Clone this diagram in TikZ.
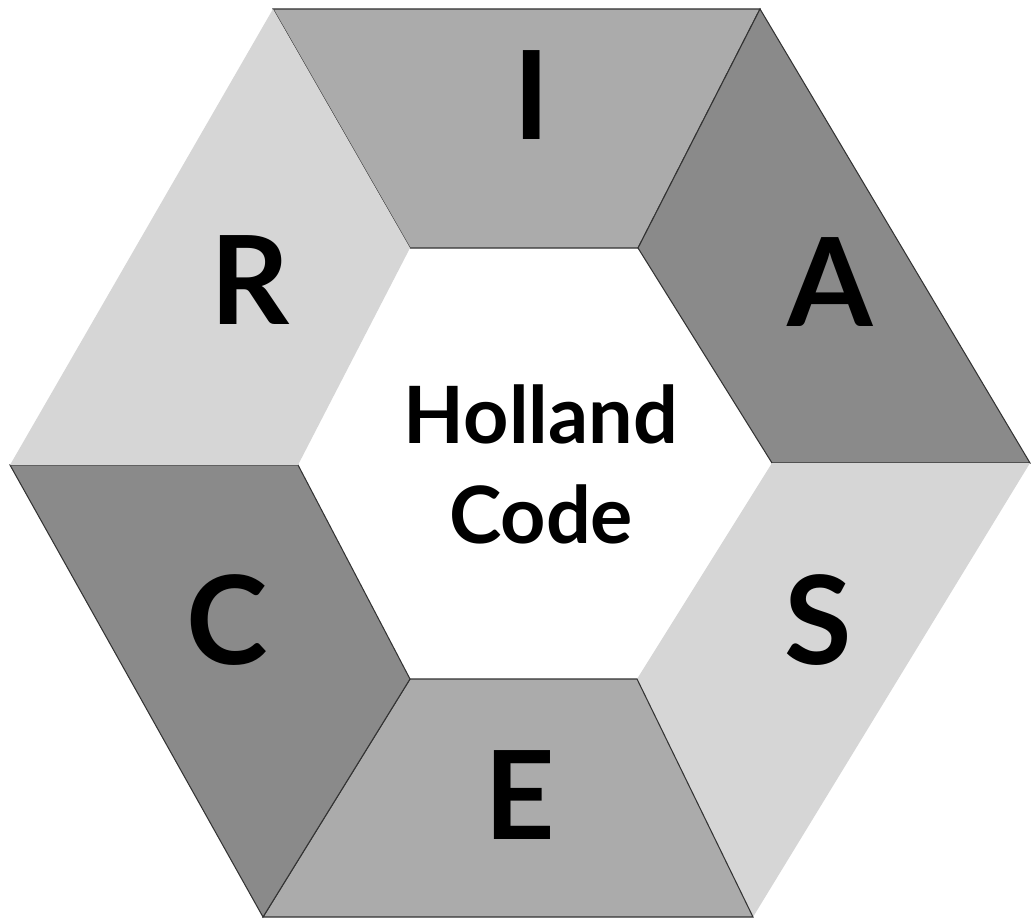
\documentclass[tikz,border=0pt]{standalone}
\usepackage{fontspec}
\setmainfont{Lato}
\usepackage{xcolor}
\usepackage{tikz}
\definecolor{seglight}{gray}{0.84}
\definecolor{segmid}{gray}{0.67}
\definecolor{segdark}{gray}{0.54}

\begin{document}
\begin{tikzpicture}[
          seg/.style={fill=#1, draw=black!80, line width=0.3pt, line join=miter},
          letter/.style={font=\fontsize{35}{40}\selectfont\bfseries, text=black, inner sep=0pt},
          title/.style={font=\fontsize{22.5}{27}\selectfont\bfseries, anchor=base, inner sep=0pt}
        ]
        \useasboundingbox (0,0) rectangle (10.31,9.20);
        \coordinate (o1) at (2.73, 9.11);
        \coordinate (o2) at (7.60, 9.11);
        \coordinate (o3) at (10.30, 4.57);
        \coordinate (o4) at (7.53, 0.03);
        \coordinate (o5) at (2.63, 0.03);
        \coordinate (o6) at (0.10, 4.55);
        \coordinate (i1) at (4.10, 6.72);
        \coordinate (i2) at (6.38, 6.72);
        \coordinate (i3) at (7.72, 4.57);
        \coordinate (i4) at (6.37, 2.41);
        \coordinate (i5) at (4.10, 2.41);
        \coordinate (i6) at (2.98, 4.55);
        \filldraw[seg=segmid] (o1) -- (o2) -- (i2) -- (i1) -- cycle;
        \filldraw[seg=segdark] (o2) -- (o3) -- (i3) -- (i2) -- cycle;
        \fill[seglight] (o3) -- (o4) -- (i4) -- (i3) -- cycle;
        \filldraw[seg=segmid] (o4) -- (o5) -- (i5) -- (i4) -- cycle;
        \filldraw[seg=segdark] (o5) -- (o6) -- (i6) -- (i5) -- cycle;
        \fill[seglight] (o6) -- (o1) -- (i1) -- (i6) -- cycle;
        \node[letter] (lI) at (5.32, 8.25) {I};
        \node[letter] (lA) at (8.30, 6.38) {A};
        \node[letter] (lS) at (8.18, 3.00) {S};
        \node[letter] (lE) at (5.20, 1.25) {E};
        \node[letter] (lC) at (2.27, 3.00) {C};
        \node[letter] (lR) at (2.50, 6.40) {R};
        \node[title] (holland) at (5.41, 4.77) {Holland};
        \node[title] (code) at (5.41, 3.77) {Code};
        \end{tikzpicture}
\end{document}
